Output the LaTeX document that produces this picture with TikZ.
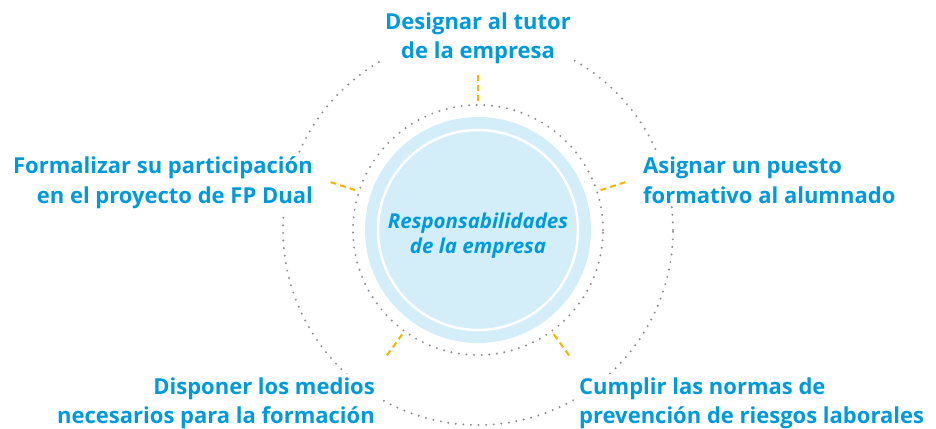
\documentclass[tikz,border=0pt]{standalone}
\usepackage{fontspec}
\setmainfont{Open Sans}
\definecolor{dualblue}{RGB}{0,154,218}
\definecolor{discblue}{RGB}{211,237,249}
\definecolor{dotgray}{RGB}{140,140,140}
\definecolor{tickyellow}{RGB}{245,180,0}

\begin{document}
\begin{tikzpicture}
          [x=1pt,y=1pt,
           task/.style={fill=white,inner sep=3pt,text=dualblue,align=left,font=\bfseries\fontsize{22}{29}\selectfont},
           dotring/.style={draw=dotgray,line width=2.2pt,dash pattern=on 0pt off 7.6pt,line cap=round},
           tick/.style={draw=tickyellow,line width=2pt,dash pattern=on 6pt off 4pt}]

          \useasboundingbox (-478,-198) rectangle (458,230);

          \draw[dotring] (0,0) circle (195pt);
          \node[dotring,circle,inner sep=0pt,minimum size=250pt] (inner) at (0,0) {};

          \node[task,anchor=base,align=center] (tutor) at (0,171) {Designar al tutor\\de la empresa};
          \node[task,anchor=base west] (puesto) at (162,27) {Asignar un puesto\\formativo al alumnado};
          \node[task,anchor=base east,align=right] (formalizar) at (-162,27) {Formalizar su participación\\en el proyecto de FP Dual};
          \node[task,anchor=base east,align=right] (medios) at (-100,-193) {Disponer los medios\\necesarios para la formación};
          \node[task,anchor=base west] (normas) at (98,-193) {Cumplir las normas de\\prevención de riesgos laborales};

          \coordinate (a1) at (90:129pt);  \coordinate (b1) at (90:156pt);
          \coordinate (a2) at (18:129pt);  \coordinate (b2) at (18:156pt);
          \coordinate (a3) at (162:129pt); \coordinate (b3) at (162:156pt);
          \coordinate (a4) at (234:129pt); \coordinate (b4) at (234:156pt);
          \coordinate (a5) at (306:129pt); \coordinate (b5) at (306:156pt);

          \draw[tick] (a1) -- (b1);
          \draw[tick] (a2) -- (b2);
          \draw[tick] (a3) -- (b3);
          \draw[tick] (a4) -- (b4);
          \draw[tick] (a5) -- (b5);

          \node[circle,fill=discblue,minimum size=226pt] (disc) at (0,0) {};
          \node[circle,draw=white,line width=2.5pt,minimum size=200pt] (ring) at (0,0) {};
          \node[align=center,text=dualblue,font=\bfseries\itshape\fontsize{20.5}{25}\selectfont] (resp) at (0,-6) {Responsabilidades\\de la empresa};
        \end{tikzpicture}
\end{document}
